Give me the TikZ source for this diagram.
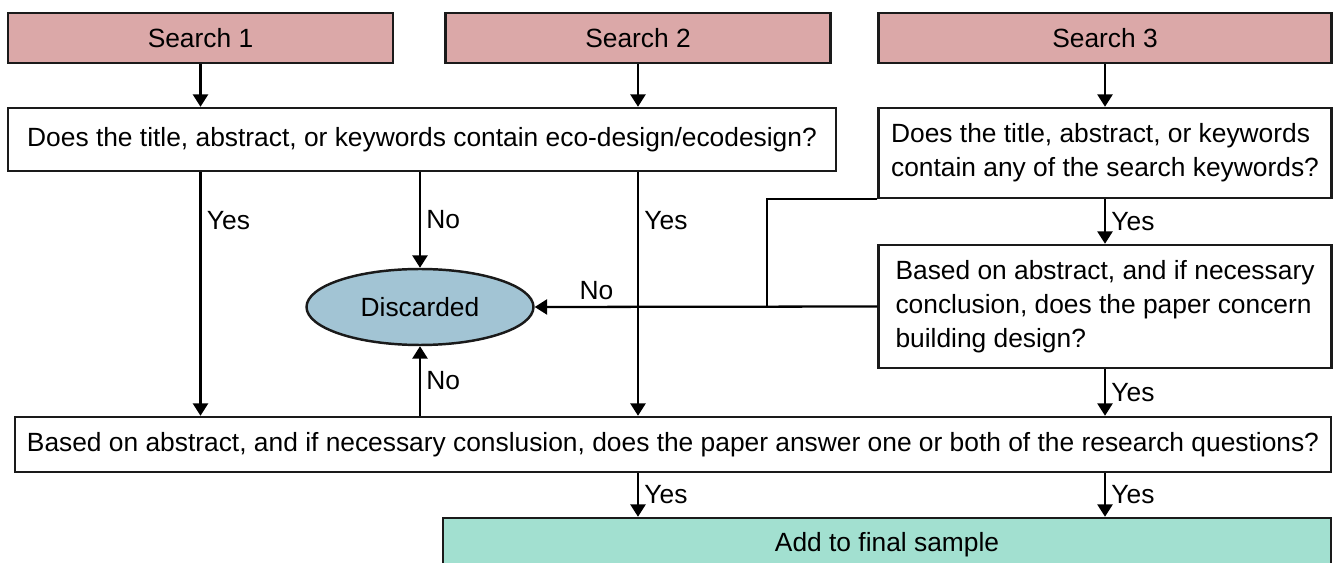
\documentclass[tikz,border=0pt]{standalone}
\usepackage{fontspec}
\setmainfont{Liberation Sans}
\usepackage{xcolor}
\definecolor{Black}{HTML}{000000}
\definecolor{White}{HTML}{FFFFFF}
\definecolor{Pink}{HTML}{DBA8A8}
\definecolor{Teal}{HTML}{A2E0D0}
\definecolor{Steel}{HTML}{A2C4D4}
\definecolor{Border}{HTML}{1A1A1A}
\usetikzlibrary{arrows.meta, shapes.geometric}
\tikzset{
  every picture/.style={font={\fontsize{15}{19.5}\selectfont}, >={Triangle[width=8.5pt,length=7pt]}},
  box/.style={draw=Border, line width=1.4pt, inner sep=0pt, text=Black},
  flow/.style={->, line width=1.3pt, Black},
  lbl/.style={right, inner sep=3pt}}

\begin{document}
\begin{tikzpicture}[x=0.02cm, y=-0.02cm]
    \clip (0,0) rectangle (1341,563);
    \fill[White] (0,0) rectangle (1341,563);

    % searches
    \node[box, fill=Pink, minimum width=7.7cm, minimum height=1cm] (s1) at (200.5,38) {Search 1};
    \node[box, fill=Pink, minimum width=7.7cm, minimum height=1cm] (s2) at (638,38) {Search 2};
    \node[box, fill=Pink, minimum width=9.06cm, minimum height=1cm] (s3) at (1105,38) {Search 3};

    % questions
    \node[box, fill=White, minimum width=16.56cm, minimum height=1.26cm] (q1) at (422,139.5)
      {Does the title, abstract, or keywords contain eco-design/ecodesign?};
    \node[box, fill=White, minimum width=9.06cm, minimum height=1.8cm, align=left] (q3) at (1105,153)
      {Does the title, abstract, or keywords\\contain any of the search keywords?};
    \node[box, fill=White, minimum width=9.06cm, minimum height=2.46cm, align=left] (q3b) at (1105,306.5)
      {Based on abstract, and if necessary\\conclusion, does the paper concern\\building design?};
    \node[box, fill=White, minimum width=26.32cm, minimum height=1.1cm] (q4) at (673,444.5)
      {Based on abstract, and if necessary conslusion, does the paper answer one or both of the research questions?};

    % outcomes
    \node[box, ellipse, fill=Steel, minimum width=4.54cm, minimum height=1.52cm] (disc) at (420,307) {Discarded};
    \node[box, fill=Teal, minimum width=17.76cm, minimum height=1.08cm] (fin) at (887,545) {Add to final sample};

    \coordinate (turn) at (767,307);

    % connectors
    \foreach \src/\dst in {s1/q1, s2/q1, s3/q3} {
      \draw[flow] (\src.south) -- (\src.south |- \dst.north);
    }
    \draw[flow] (q1.south -| s1) -- (q4.north -| s1) node[lbl, pos=0.2] {Yes};
    \draw[flow] (q1.south -| s2) -- (q4.north -| s2) node[lbl, pos=0.2] {Yes};
    \draw[flow] (q1.south -| disc) -- (disc.north) node[lbl, midway] {No};
    \draw[flow] (q3.south) -- (q3b.north) node[lbl, midway] {Yes};
    \draw[flow] (q3b.south) -- (q3b.south |- q4.north) node[lbl, midway] {Yes};
    \draw[line width=1.3pt] (q3.south west) -- (q3.south west -| turn) -- (turn);
    \draw[flow] (q3b.west) -- (disc.east) node[above, pos=0.82] {No};
    \draw[flow] (q4.north -| disc) -- (disc.south) node[lbl, midway] {No};
    \draw[flow] (q4.south -| s2) -- (fin.north -| s2) node[lbl, midway] {Yes};
    \draw[flow] (q4.south -| q3b) -- (fin.north -| q3b) node[lbl, midway] {Yes};
\end{tikzpicture}
\end{document}
